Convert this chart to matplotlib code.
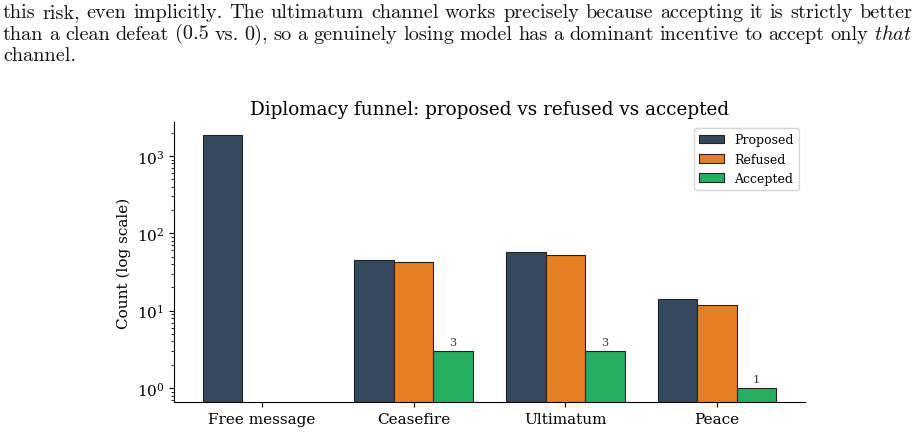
import numpy as np
import matplotlib
matplotlib.use("Agg")
import matplotlib.pyplot as plt

# paragraph above the chart (justified lines)
lines = [
    "this risk, even implicitly. The ultimatum channel works precisely because accepting it is strictly better",
    "than a clean defeat (0.5 vs. 0), so a genuinely losing model has a dominant incentive to accept only $\\mathit{that}$",
    "channel.",
]
justify = [True, True, False]

channels = ["Free message", "Ceasefire", "Ultimatum", "Peace"]
proposed = [1850, 45, 58, 14]
refused = [0, 42, 53, 12]
accepted = [0, 3, 3, 1]
series_names = ["Proposed", "Refused", "Accepted"]
colors = ["#34495e", "#e67e22", "#27ae60"]

plt.rcParams["font.family"] = "DejaVu Serif"
plt.rcParams["mathtext.fontset"] = "dejavuserif"

fig = plt.figure(figsize=(9.2, 4.35), dpi=100)
W, H = 920, 435
X0, X1 = 3, 912
kw = dict(family="cmr10", math_fontfamily="cm", va="baseline", ha="left", color="#111111")
r = fig.canvas.get_renderer()

# pick a font size so the first line sits at natural spacing
probe = fig.text(0, 0, lines[0], fontsize=12.7, **kw)
size = 12.7 * (X1 - X0) / probe.get_window_extent(r).width
probe.remove()


def put_line(text, y_px, just=True):
    if not just:
        fig.text(X0 / W, 1 - y_px / H, text, fontsize=size, **kw)
        return
    items = []
    for w in text.split(" "):
        t = fig.text(0, 1 - y_px / H, w, fontsize=size, **kw)
        items.append((t, t.get_window_extent(r).width))
    total = sum(wd for _, wd in items)
    gap = (X1 - X0 - total) / (len(items) - 1)
    x = X0
    for t, wd in items:
        t.set_x(x / W)
        x += wd + gap


for txt, yb, j in zip(lines, [18, 39.5, 61], justify):
    put_line(txt, yb, just=j)

ax = fig.add_axes([174 / W, 1 - 403 / H, (805 - 174) / W, (403 - 123) / H])
x = np.arange(len(channels))
width = 0.26
for i, (vals, name, c) in enumerate(zip([proposed, refused, accepted], series_names, colors)):
    ax.bar(x + (i - 1) * width, vals, width, label=name, color=c,
           edgecolor="#222222", linewidth=0.8)

for xi, v in zip(x, accepted):
    if v > 0:
        ax.annotate(str(v), (xi + width, v), xytext=(0, 3), textcoords="offset points",
                    ha="center", va="bottom", fontsize=8, color="#333333")

ax.set_yscale("log")
ax.set_ylim(0.66, 2750)
ax.set_xticks(x)
ax.set_xticklabels(channels, fontsize=11)
ax.tick_params(axis="y", labelsize=11)
ax.set_ylabel("Count (log scale)", fontsize=11)
ax.set_title("Diplomacy funnel: proposed vs refused vs accepted", fontsize=13.25)
ax.spines["top"].set_visible(False)
ax.spines["right"].set_visible(False)
ax.legend(loc="upper right", fontsize=9)

fig.savefig("out.png", dpi=100)
